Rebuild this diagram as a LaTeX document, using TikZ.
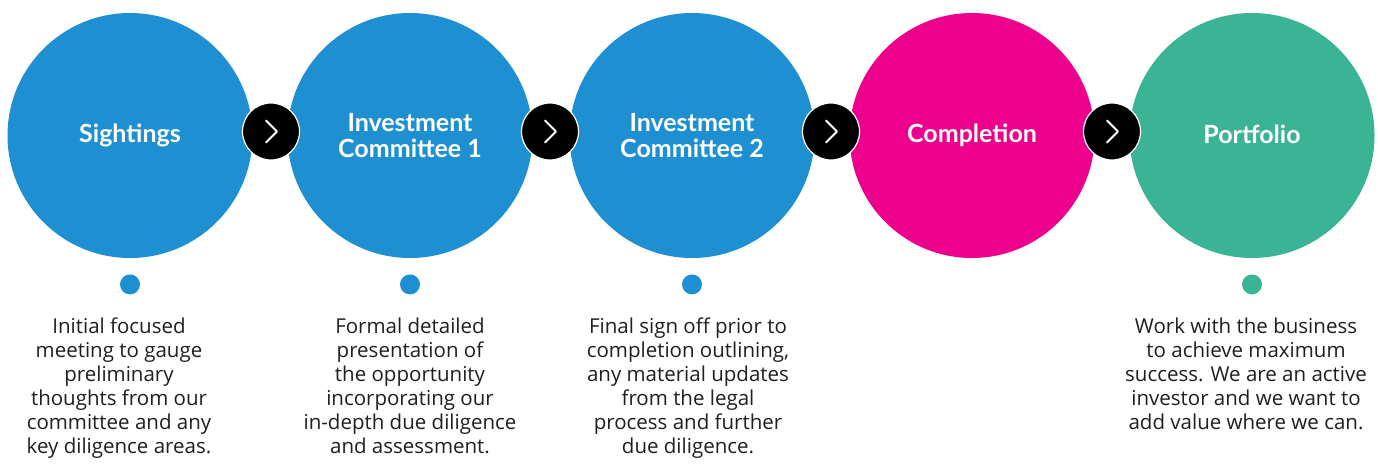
\documentclass[tikz,border=0pt]{standalone}
\usepackage{fontspec}
\setmainfont{Open Sans}
\newfontfamily\headfont{Lato}
\usetikzlibrary{positioning}
\definecolor{stageblue}{RGB}{30,144,210}
\definecolor{stagepink}{RGB}{236,0,140}
\definecolor{stagegreen}{RGB}{59,179,149}

\begin{document}
\begin{tikzpicture}[x=1pt, y=-1pt,
    stage/.style={circle, inner sep=0pt, minimum size=245pt, text=white, align=center,
        font=\headfont\bfseries\fontsize{25}{26}\selectfont},
    nextbtn/.style={circle, fill=black, draw=white, line width=1.2pt, minimum size=57pt, inner sep=0pt},
    chevron/.style={white, line width=1.8pt, line cap=round, line join=round},
    marker/.style={circle, inner sep=0pt, minimum size=20pt},
    blurb/.style={inner sep=0pt, align=center, text=black!88,
        font=\fontsize{20.5}{24}\selectfont}]

    \useasboundingbox (0,0) rectangle (1378,469);

    % Stages
    \node[stage, fill=stageblue] (S1) at (130,135.5) {\raisebox{2pt}{Sightings}};
    \node[stage, fill=stageblue] (S2) at (410,135.5) {Investment\\Committee 1};
    \node[stage, fill=stageblue] (S3) at (692,135.5) {Investment\\Committee 2};
    \node[stage, fill=stagepink] (S4) at (972,135.5) {\raisebox{2pt}{Completion}};
    \node[stage, fill=stagegreen] (S5) at (1252,135.5) {\raisebox{2pt}{Portfolio}};

    % Arrows between stages
    \node[nextbtn] (N1) at (271,131.5) {};
    \node[nextbtn] (N2) at (550,131.5) {};
    \node[nextbtn] (N3) at (831,131.5) {};
    \node[nextbtn] (N4) at (1112,131.5) {};
    \draw[chevron] ([shift={(-5,-11)}]N1.center) -- ([shift={(6,0)}]N1.center) -- ([shift={(-5,11)}]N1.center);
    \draw[chevron] ([shift={(-5,-11)}]N2.center) -- ([shift={(6,0)}]N2.center) -- ([shift={(-5,11)}]N2.center);
    \draw[chevron] ([shift={(-5,-11)}]N3.center) -- ([shift={(6,0)}]N3.center) -- ([shift={(-5,11)}]N3.center);
    \draw[chevron] ([shift={(-5,-11)}]N4.center) -- ([shift={(6,0)}]N4.center) -- ([shift={(-5,11)}]N4.center);

    % Markers
    \node[marker, fill=stageblue, below=16pt of S1] (D1) {};
    \node[marker, fill=stageblue, below=16pt of S2] (D2) {};
    \node[marker, fill=stageblue, below=16pt of S3] (D3) {};
    \node[marker, fill=stagegreen, below=16pt of S5] (D5) {};

    % Descriptions
    \node[blurb, below=23pt of D1, xshift=-11pt] (T1) {Initial focused\\meeting to gauge\\preliminary\\thoughts from our\\committee and any\\key diligence areas.};
    \node[blurb, below=23pt of D2] (T2) {Formal detailed\\presentation of\\the opportunity\\incorporating our\\in-depth due diligence\\and assessment.};
    \node[blurb, below=23pt of D3, xshift=-4pt] (T3) {Final sign off prior to\\completion outlining,\\any material updates\\from the legal\\process and further\\due diligence.};
    \node[blurb, below=23pt of D5, xshift=-6pt] (T5) {Work with the business\\to achieve maximum\\success. We are an active\\investor and we want to\\add value where we can.};
\end{tikzpicture}
\end{document}
